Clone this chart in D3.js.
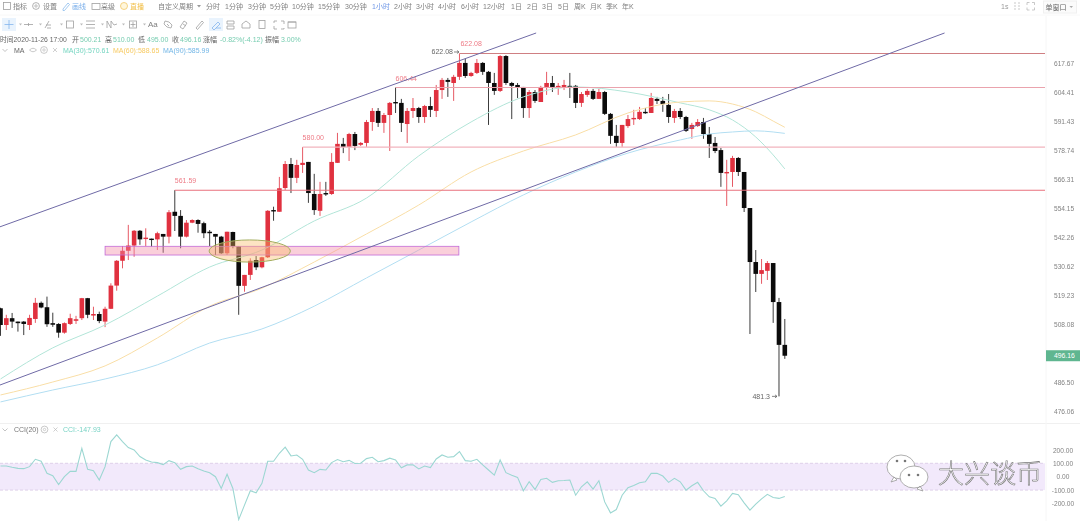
<!DOCTYPE html>
<html>
<head>
<meta charset="utf-8">
<script src="https://cdn.jsdelivr.net/npm/d3@7"></script>
<style>
  html, body { margin: 0; padding: 0; background: #fff; overflow: hidden; }
  svg { display: block; filter: blur(0.45px); }
  text { font-family: "Liberation Sans", "Noto Sans CJK SC", sans-serif; }
</style>
</head>
<body>
<div id="chart"></div>
<script>
// hourly candles, last one is 2020-11-26 17:00
const opens = [
  514.1, 507.7, 510.3, 509.0, 509.0, 507.7, 510.0, 516.2, 514.5, 508.4,
  508.1, 504.8, 508.1, 509.3, 510.3, 518.0, 511.3, 511.9, 509.0, 513.9,
  522.9, 532.7, 536.7, 538.8, 544.8, 541.5, 541.6, 541.3, 543.5, 542.4,
  552.6, 550.9, 542.4, 548.1, 549.2, 547.9, 544.4, 543.5, 542.4, 535.7,
  544.3, 538.4, 522.8, 527.1, 533.0, 530.1, 534.1, 553.3, 552.6, 562.5,
  572.7, 566.8, 572.3, 573.6, 560.0, 553.0, 560.4, 560.0, 573.2, 581.4,
  580.1, 585.7, 581.0, 581.8, 591.0, 595.9, 590.6, 594.1, 599.9, 599.5,
  590.1, 595.9, 597.2, 593.2, 598.1, 595.9, 605.3, 609.9, 608.5, 611.3,
  617.7, 611.7, 613.1, 617.7, 613.6, 608.5, 604.9, 620.9, 608.5, 607.6,
  606.7, 597.2, 604.4, 599.9, 606.7, 608.5, 606.7, 606.7, 607.2, 607.2,
  599.5, 603.1, 604.9, 601.3, 604.4, 594.6, 584.9, 581.8, 589.2, 592.3,
  592.3, 595.5, 595.0, 601.3, 600.4, 598.6, 592.8, 595.9, 593.2, 587.9,
  589.2, 591.0, 585.7, 581.8, 578.7, 568.9, 569.3, 575.3, 569.3, 554.15,
  532.2, 527.5, 528.7, 531.8, 516.5, 500.21
];
const closes = [
  507.7, 510.3, 509.0, 508.4, 508.1, 510.4, 516.2, 514.4, 508.0, 507.8,
  504.8, 508.4, 510.3, 509.9, 518.0, 511.6, 511.9, 509.2, 513.9, 522.9,
  532.7, 536.7, 538.8, 544.8, 541.3, 542.0, 541.2, 543.8, 542.4, 552.4,
  550.9, 542.4, 548.1, 549.2, 547.6, 543.8, 543.8, 542.4, 535.7, 544.4,
  538.6, 522.8, 527.1, 532.7, 530.1, 534.1, 553.0, 552.8, 562.4, 572.7,
  566.8, 572.3, 573.2, 560.4, 553.3, 560.0, 559.8, 573.6, 581.4, 580.1,
  585.7, 580.5, 581.8, 591.0, 595.9, 590.6, 594.1, 599.5, 599.5, 590.6,
  595.9, 597.2, 593.2, 598.1, 596.4, 605.3, 609.9, 609.0, 611.3, 617.7,
  611.7, 613.1, 617.7, 613.6, 608.5, 604.9, 620.9, 608.5, 607.2, 606.3,
  597.2, 604.4, 600.4, 606.7, 608.5, 606.7, 607.2, 607.6, 606.7, 599.5,
  603.5, 604.9, 601.3, 604.4, 594.6, 584.9, 581.8, 589.7, 592.3, 592.8,
  595.5, 595.0, 601.7, 600.4, 599.0, 593.2, 595.9, 593.2, 587.1, 589.7,
  591.0, 585.7, 581.4, 578.3, 568.9, 569.3, 575.3, 569.3, 554.15, 532.2,
  527.5, 529.0, 531.8, 516.5, 500.21, 496.16
];
const highs = [
  514.3, 511.6, 512.3, 509.0, 509.2, 511.6, 518.1, 516.7, 518.6, 512.4,
  508.4, 508.7, 512.0, 511.2, 518.1, 518.1, 514.7, 512.8, 514.7, 523.8,
  533.0, 538.6, 547.2, 545.1, 545.1, 545.8, 541.6, 544.4, 543.5, 553.3,
  561.59, 553.3, 549.2, 549.5, 549.5, 548.5, 545.1, 543.5, 542.7, 544.4,
  544.4, 538.4, 527.1, 533.7, 534.6, 534.3, 553.3, 554.7, 567.2, 574.0,
  575.3, 574.5, 580.0, 573.6, 568.5, 565.1, 565.1, 577.4, 586.2, 584.0,
  586.2, 586.6, 582.2, 591.9, 597.2, 597.2, 595.0, 599.9, 606.44, 601.3,
  597.2, 601.7, 597.7, 598.6, 602.2, 607.6, 610.8, 610.8, 612.2, 622.08,
  619.5, 613.6, 619.5, 618.1, 614.0, 613.1, 621.3, 621.3, 609.0, 608.5,
  606.7, 605.3, 605.3, 607.2, 613.6, 611.7, 608.5, 609.9, 613.1, 607.6,
  604.4, 605.8, 605.8, 605.8, 604.9, 595.0, 589.7, 589.7, 594.1, 596.4,
  597.7, 597.2, 604.0, 602.2, 602.2, 603.5, 596.8, 597.2, 593.7, 590.6,
  592.3, 592.8, 588.8, 584.4, 579.6, 574.5, 576.2, 575.7, 569.3, 554.15,
  537.0, 533.4, 532.6, 531.8, 518.1, 510.0
];
const lows = [
  503.6, 505.8, 506.6, 505.2, 503.9, 505.8, 508.5, 514.1, 507.0, 507.0,
  502.9, 504.4, 507.7, 508.1, 509.6, 510.3, 509.6, 508.4, 506.9, 513.8,
  520.9, 529.7, 533.0, 534.3, 539.1, 538.6, 538.4, 537.0, 535.9, 539.7,
  544.7, 537.7, 542.1, 547.9, 544.0, 541.8, 538.6, 535.0, 535.4, 535.0,
  537.7, 511.6, 520.5, 525.1, 529.0, 529.7, 533.8, 548.9, 552.6, 561.7,
  560.4, 564.6, 568.9, 556.3, 551.3, 550.9, 559.2, 559.6, 573.2, 577.4,
  574.0, 578.7, 580.5, 580.1, 587.1, 588.8, 586.2, 578.3, 595.0, 586.6,
  581.8, 592.8, 590.6, 590.6, 593.2, 593.2, 601.3, 602.2, 600.4, 609.9,
  610.8, 611.3, 612.6, 612.2, 589.7, 603.1, 604.4, 607.6, 592.3, 601.7,
  592.8, 592.8, 599.5, 599.9, 603.1, 604.4, 603.1, 605.3, 601.7, 597.2,
  597.7, 602.2, 600.8, 601.3, 594.1, 581.4, 580.1, 580.1, 588.4, 589.7,
  591.9, 594.6, 595.0, 599.0, 595.5, 590.6, 590.6, 592.3, 586.6, 583.6,
  588.8, 583.6, 575.3, 577.4, 563.0, 555.0, 563.0, 567.6, 552.5, 504.3,
  520.4, 523.6, 525.1, 508.5, 481.3, 495.0
];

// moving averages read at these candle numbers
const maIndex = [0, 9, 18, 27, 36, 45, 54, 63, 72, 81, 90, 99, 108, 117, 122, 126, 130, 133, 135];
const ma30 = [487.6, 499.1, 507.7, 518.8, 530.2, 537.0, 548.8, 558.3, 576.2, 591.0, 602.2, 606.7, 604.4, 599.5, 596.4, 591.9, 584.4, 576.6, 570.61];
const ma60 = [481.8, 486.5, 492.4, 502.8, 514.9, 521.9, 532.2, 543.5, 555.4, 569.3, 578.3, 585.3, 595.0, 599.9, 600.4, 599.0, 595.5, 591.4, 588.65];
const ma90 = [479.3, 483.6, 487.6, 492.8, 500.9, 506.2, 514.9, 525.9, 537.0, 548.4, 559.6, 569.3, 577.4, 583.1, 585.7, 586.6, 587.1, 586.6, 585.99];

const cciValues = [
  80, 80, 70, 62, 60, 75, 130, 115, 25, 8,
  -58, 0, 40, 40, 212, 55, 45, -25, 75, 262,
  312, 262, 217, 200, 150, 125, 110, 105, 90, 120,
  105, 55, 75, 80, 60, 42, 30, 0, -88, 18,
  -88, -320, -212, -105, -120, -50, 115, 115, 175, 220,
  155, 162, 130, 50, 30, 55, 50, 105, 128, 112,
  122, 98, 100, 135, 145, 112, 120, 138, 125, 67,
  88, 88, 58, 80, 68, 132, 162, 145, 150, 188,
  120, 115, 130, 88, 50, 12, 125, 30, 10, -5,
  -105, -38, -95, -20, -12, -42, -30, -28, -25, -138,
  -75, -38, -92, -30, -188, -270, -245, -138, -82, -65,
  -45, -38, 25, 25, 5, -42, -12, -38, -100, -68,
  -42, -105, -150, -162, -220, -180, -125, -135, -195, -250,
  -205, -165, -132, -155, -162, -147.93
];

const priceTicks = [617.67, 604.41, 591.43, 578.74, 566.31, 554.15, 542.26, 530.62, 519.23, 508.08, 486.50, 476.06];
const cciTicks = [200, 100, 0, -100, -200];
const lastPrice = 496.16;

// drawings on the chart
const levelPrices = [622.08, 606.44, 580.00, 561.59];
const levelStarts = [79, 68, 52, 30];
const trendStarts = [-0.1, -0.1];
const trendStartPrices = [546.4, 485.4];
const trendEnds = [92.2, 162.5];
const trendEndPrices = [631.7, 631.7];
const zoneIndex = [18, 78.9];
const zonePrices = [538.5, 535.0];
const ovalCenter = [42.9, 536.6];
const ovalSpan = [7, 541.1, 532.2];

const periodLabels = ["分时", "1分钟", "3分钟", "5分钟", "10分钟", "15分钟", "30分钟", "1小时", "2小时", "3小时", "4小时", "6小时", "12小时", "1日", "2日", "3日", "5日", "周K", "月K", "季K", "年K"];
const periodLeft = [206, 225, 248, 270, 292, 318, 345, 372, 394, 416, 438, 461, 483, 511, 527, 542, 558, 574, 590, 606, 622];

const width = 1080, height = 521;
const plotRight = 1045;

const svg = d3.select("#chart").append("svg")
  .attr("width", width)
  .attr("height", height);

const x = d3.scaleLinear().domain([0, 135]).range([0.5, 784.8]);
const y = d3.scaleLog().domain([617.67, 476.06]).range([63, 411]);
const yCci = d3.scaleLinear().domain([200, -200]).range([449.9, 503.5]);

const text = (parent, px, py, str, color, size, anchor) =>
  parent.append("text")
    .attr("x", px)
    .attr("y", py)
    .attr("fill", color)
    .attr("font-size", size)
    .attr("text-anchor", anchor || "start")
    .attr("dominant-baseline", "central")
    .text(str);

// ---- panel frames
svg.append("line")
  .attr("x1", 0).attr("x2", width)
  .attr("y1", 423.5).attr("y2", 423.5)
  .attr("stroke", "#f0f0f0");
svg.append("line")
  .attr("x1", plotRight + 1).attr("x2", plotRight + 1)
  .attr("y1", 16).attr("y2", height)
  .attr("stroke", "#f6f6f6");

// ---- candles
const candles = svg.append("g");
const candleRows = d3.range(opens.length);
const isUp = (i) => closes[i] >= opens[i];
const candleColor = (i) => (isUp(i) ? "#e0313f" : "#0b0b0b");

candles.selectAll("line")
  .data(candleRows)
  .join("line")
  .attr("x1", (i) => x(i))
  .attr("x2", (i) => x(i))
  .attr("y1", (i) => y(highs[i]))
  .attr("y2", (i) => y(lows[i]))
  .attr("stroke", candleColor)
  .attr("stroke-opacity", 0.8)
  .attr("stroke-width", 1);

candles.selectAll("rect")
  .data(candleRows)
  .join("rect")
  .attr("x", (i) => x(i) - 2.3)
  .attr("width", 4.6)
  .attr("y", (i) => y(Math.max(opens[i], closes[i])))
  .attr("height", (i) => Math.max(1.4, Math.abs(y(opens[i]) - y(closes[i]))))
  .attr("fill", candleColor);

// ---- moving averages
const maLine = d3.line()
  .x((d) => x(d[0]))
  .y((d) => y(d[1]))
  .curve(d3.curveMonotoneX);

[[ma30, "#b2e5d8"], [ma60, "#f9dea6"], [ma90, "#b2def2"]].forEach(([values, color]) => {
  svg.append("path")
    .attr("d", maLine(maIndex.map((idx, k) => [idx, values[k]])))
    .attr("fill", "none")
    .attr("stroke", color)
    .attr("stroke-width", 1);
});

// ---- support zone and oval
svg.append("rect")
  .attr("x", x(zoneIndex[0]))
  .attr("width", x(zoneIndex[1]) - x(zoneIndex[0]))
  .attr("y", y(zonePrices[0]))
  .attr("height", y(zonePrices[1]) - y(zonePrices[0]))
  .attr("fill", "#f48ca6")
  .attr("fill-opacity", 0.42)
  .attr("stroke", "#c26bd8")
  .attr("stroke-width", 0.8);

svg.append("ellipse")
  .attr("cx", x(ovalCenter[0]))
  .attr("cy", y(ovalCenter[1]))
  .attr("rx", x(ovalCenter[0] + ovalSpan[0]) - x(ovalCenter[0]))
  .attr("ry", (y(ovalSpan[2]) - y(ovalSpan[1])) / 2)
  .attr("fill", "#f9b860")
  .attr("fill-opacity", 0.38)
  .attr("stroke", "#a3ad5e")
  .attr("stroke-width", 1);

// ---- horizontal levels
const levelColors = ["#cf7f82", "#eaa3ad", "#f2b4be", "#e9717c"];
levelPrices.forEach((price, k) => {
  svg.append("line")
    .attr("x1", x(levelStarts[k]))
    .attr("x2", plotRight)
    .attr("y1", y(price))
    .attr("y2", y(price))
    .attr("stroke", levelColors[k])
    .attr("stroke-width", 1.1);
  text(svg, x(levelStarts[k]) + (k === 0 ? 1 : 0), y(price) - 9.5, price.toFixed(2), "#ee7b86", 7);
});

// ---- trend lines
trendStarts.forEach((start, k) => {
  svg.append("line")
    .attr("x1", x(start))
    .attr("y1", y(trendStartPrices[k]))
    .attr("x2", x(trendEnds[k]))
    .attr("y2", y(trendEndPrices[k]))
    .attr("stroke", "#6f6aa6")
    .attr("stroke-width", 1);
});

// high and low markers
const arrow = (px, py) => svg.append("path")
  .attr("d", `M${px},${py}h5m-2,-1.5l2,1.5l-2,1.5`)
  .attr("fill", "none")
  .attr("stroke", "#555")
  .attr("stroke-width", 0.7);
text(svg, x(79) - 6.5, y(622.08) - 1.5, "622.08", "#666", 7, "end");
arrow(x(79) - 5.5, y(622.08) - 1.5);
text(svg, x(134) - 9, y(481.3), "481.3", "#666", 7, "end");
arrow(x(134) - 7, y(481.3));

// ---- price axis
const tickText = (d) => d.toFixed(2);
const priceAxis = svg.append("g")
  .attr("transform", `translate(${plotRight + 6},0)`)
  .call(d3.axisRight(y).tickValues(priceTicks).tickFormat(tickText).tickSize(0));
priceAxis.select(".domain").remove();
priceAxis.selectAll("text")
  .attr("fill", "#828282")
  .attr("font-size", 6.6)
  .attr("font-family", null);

svg.append("rect")
  .attr("x", plotRight + 1)
  .attr("y", y(lastPrice) - 5.5)
  .attr("width", width - plotRight - 1)
  .attr("height", 11)
  .attr("fill", "#5fb690");
text(svg, plotRight + 9, y(lastPrice), lastPrice.toFixed(2), "#fff", 6.8);

// ---- CCI panel
svg.append("rect")
  .attr("x", 0)
  .attr("width", plotRight)
  .attr("y", yCci(100))
  .attr("height", yCci(-100) - yCci(100))
  .attr("fill", "#f2e9fb");
[100, -100].forEach((v) => {
  svg.append("line")
    .attr("x1", 0).attr("x2", plotRight)
    .attr("y1", yCci(v)).attr("y2", yCci(v))
    .attr("stroke", "#d8c8e4")
    .attr("stroke-width", 0.8)
    .attr("stroke-dasharray", "3,2");
});
svg.append("path")
  .attr("d", d3.line().x((d, i) => x(i)).y((d) => yCci(d))(cciValues))
  .attr("fill", "none")
  .attr("stroke", "#9cd7d2")
  .attr("stroke-width", 1.1);

const cciAxis = svg.append("g")
  .attr("transform", `translate(${plotRight + 18},0)`)
  .call(d3.axisRight(yCci).tickValues(cciTicks).tickFormat(tickText).tickSize(0));
cciAxis.select(".domain").remove();
cciAxis.selectAll("text")
  .attr("x", 0)
  .attr("text-anchor", "middle")
  .attr("fill", "#828282")
  .attr("font-size", 6.6)
  .attr("font-family", null);

// ---- small icons
const gear = (parent, px, py, color) => {
  parent.append("circle").attr("cx", px).attr("cy", py).attr("r", 3.4)
    .attr("fill", "none").attr("stroke", color).attr("stroke-width", 0.8);
  parent.append("circle").attr("cx", px).attr("cy", py).attr("r", 1.2)
    .attr("fill", "none").attr("stroke", color).attr("stroke-width", 0.7);
};
const cross = (parent, px, py, color) => parent.append("path")
  .attr("d", `M${px - 2},${py - 2}l4,4m0,-4l-4,4`)
  .attr("stroke", color).attr("stroke-width", 0.7).attr("fill", "none");
const chevron = (parent, px, py, color) => parent.append("path")
  .attr("d", `M${px - 2.5},${py - 1}l2.5,2.5l2.5,-2.5`)
  .attr("stroke", color).attr("stroke-width", 0.7).attr("fill", "none");
const box = (parent, px, py, color, w, h) => parent.append("rect")
  .attr("x", px - (w || 7) / 2).attr("y", py - (h || 7) / 2)
  .attr("width", w || 7).attr("height", h || 7)
  .attr("fill", "none").attr("stroke", color).attr("stroke-width", 0.8);
const glyph = (parent, d, color) => parent.append("path")
  .attr("d", d).attr("fill", "none").attr("stroke", color).attr("stroke-width", 0.8);

const iconGray = "#a0a0a0";
const barGray = "#808080";

// ---- CCI legend
chevron(svg, 5, 429.5, "#aaa");
text(svg, 14, 429.5, "CCI(20)", "#777", 7);
gear(svg, 44.5, 429.5, "#bbb");
cross(svg, 55.5, 429.5, "#bbb");
text(svg, 63, 429.5, "CCI:-147.93", "#79d3c5", 7);

// ---- top toolbar
const bar = svg.append("g");
bar.append("line").attr("x1", 0).attr("x2", width).attr("y1", 15).attr("y2", 15).attr("stroke", "#f8f8f8");

box(bar, 7, 6, iconGray);
text(bar, 13, 6, "指标", barGray, 7);
gear(bar, 36, 6, iconGray);
text(bar, 43, 6, "设置", barGray, 7);
glyph(bar, "M63,9l5,-6l1.5,1.5l-5,6h-1.5z", "#8dbcee");
text(bar, 72, 6, "画线", "#79aeea", 7);
box(bar, 96, 6.5, iconGray, 8, 6);
text(bar, 101, 6, "高级", barGray, 7);
bar.append("circle").attr("cx", 124).attr("cy", 6).attr("r", 3.5).attr("fill", "#fff6dc").attr("stroke", "#f3c86a").attr("stroke-width", 0.8);
text(bar, 130, 6, "直播", "#f2c04c", 7);
text(bar, 158, 6, "自定义周期", barGray, 7);
bar.append("path").attr("d", "M197,5h4l-2,2.5z").attr("fill", "#999");

periodLabels.forEach((label, k) => {
  text(bar, periodLeft[k], 6, label, label === "1小时" ? "#6f97e6" : barGray, 7);
});

text(bar, 1001, 6, "1s", "#999", 7);
glyph(bar, "M1014,3h2m2,0h2m-6,6h2m2,0h2m-6,-3h2m2,0h2", "#bbb");
glyph(bar, "M1027,5v-2.5h2.5m2.5,0h2.5v2.5m0,2.5v2.5h-2.5m-2.5,0h-2.5v-2.5", "#bbb");
bar.append("rect").attr("x", 1043.5).attr("y", 1).attr("width", 33).attr("height", 12)
  .attr("fill", "#fbfbfb").attr("stroke", "#f0f0f0");
text(bar, 1045.5, 7, "单窗口", "#666", 7);
bar.append("path").attr("d", "M1069.5,6h3.5l-1.75,2z").attr("fill", "#aaa");

// tool row
bar.append("rect").attr("x", 2).attr("y", 18).attr("width", 14).attr("height", 13).attr("fill", "#e9f3fd");
glyph(bar, "M9,20v9m-4.5,-4.5h9", "#84b5ee");
const toolCarets = [19, 39, 60, 80, 101, 122, 143];
toolCarets.forEach((px) => bar.append("path").attr("d", `M${px},23.5h3l-1.5,2z`).attr("fill", "#bbb"));
glyph(bar, "M24,24.5h9m-4.5,-1.5v3", iconGray);
glyph(bar, "M45,28l4,-7m-3,4h5m-4,3h4", iconGray);
box(bar, 70, 24.5, iconGray);
glyph(bar, "M86,21h9m-9,3.5h9m-9,3.5h9", iconGray);
glyph(bar, "M107,28v-7l4,7v-7l3,4l3,-1", iconGray);
box(bar, 133, 24.5, iconGray);
glyph(bar, "M130.5,24.5h5m-2.5,-2.5v5", iconGray);
text(bar, 148, 24.5, "Aa", barGray, 8);
glyph(bar, "M165,21l4,1l3,3l-1,3l-4,-1l-3,-3zM167,24l2,2", iconGray);
glyph(bar, "M180,27l4,-6l3,2l-4,6zM183,24l3,2", iconGray);
glyph(bar, "M196,28l6,-7l1.5,1.5l-6,7z", iconGray);
bar.append("rect").attr("x", 209).attr("y", 18).attr("width", 14).attr("height", 13).attr("fill", "#e9f3fd");
glyph(bar, "M212,28l6,-6l2,2l-6,6zM216,28h5", "#84b5ee");
glyph(bar, "M227,21h7v3h-7zM227,26h7v3h-7z", iconGray);
glyph(bar, "M242,28v-4l4,-3l4,3v4z", iconGray);
box(bar, 262, 24.5, iconGray, 6, 8);
glyph(bar, "M274,21h3m4,0h3v3m0,4v1h-3m-4,0h-3v-3m0,-3v-2", iconGray);
box(bar, 292, 25, iconGray, 8, 6);
glyph(bar, "M288,22h8", iconGray);

// ---- legend rows
text(svg, 0, 39.5, "时间2020-11-26 17:00", "#666", 6.8);
const legendLabels = ["开", "高", "低", "收", "涨幅", "振幅"];
const legendLabelLeft = [72, 105, 138, 172, 203, 265];
const legendValues = ["500.21", "510.00", "495.00", "496.16", "-0.82%(-4.12)", "3.00%"];
const legendValueLeft = [80, 113, 147, 180, 220, 281];
legendLabels.forEach((label, k) => {
  text(svg, legendLabelLeft[k], 39.5, label, "#666", 7);
  text(svg, legendValueLeft[k], 39.5, legendValues[k], "#78cdb1", 7);
});

chevron(svg, 5, 50, "#aaa");
text(svg, 14, 50, "MA", "#666", 7);
glyph(svg, "M29.5,50q3.5,-3.5 7,0q-3.5,3.5 -7,0z", "#bbb");
gear(svg, 44, 50, "#bbb");
cross(svg, 55, 50, "#bbb");
text(svg, 63, 50, "MA(30):570.61", "#74d5c0", 7);
text(svg, 113, 50, "MA(60):588.65", "#f7ca62", 7);
text(svg, 163, 50, "MA(90):585.99", "#72b6e6", 7);

// ---- watermark
const mark = svg.append("g");
const bubble = (cx, cy, rx, ry, tailX, tailY) => {
  mark.append("path")
    .attr("d", `M${cx - rx},${cy}a${rx},${ry} 0 1,1 ${rx * 2},0a${rx},${ry} 0 1,1 ${-rx * 2},0zM${cx + tailX},${cy + ry - 2}l${tailX > 0 ? 3 : -3},${tailY}l${tailX > 0 ? -6 : 6},-2z`)
    .attr("fill", "#fff")
    .attr("stroke", "#9a9a9a")
    .attr("stroke-width", 0.8);
};
bubble(901, 467, 14, 12, -7, 5);
bubble(914, 477, 14, 11, 6, 5);
[[897, 461], [905, 461], [909, 475], [918, 475]].forEach(([cx, cy]) => {
  mark.append("circle").attr("cx", cx).attr("cy", cy).attr("r", 1.3).attr("fill", "#777");
});
mark.append("text")
  .attr("x", 938).attr("y", 474)
  .attr("dominant-baseline", "central")
  .attr("font-size", 26)
  .attr("font-weight", 300)
  .attr("fill", "#fff")
  .attr("stroke", "#777")
  .attr("stroke-width", 0.6)
  .text("大兴谈币");
</script>
</body>
</html>
